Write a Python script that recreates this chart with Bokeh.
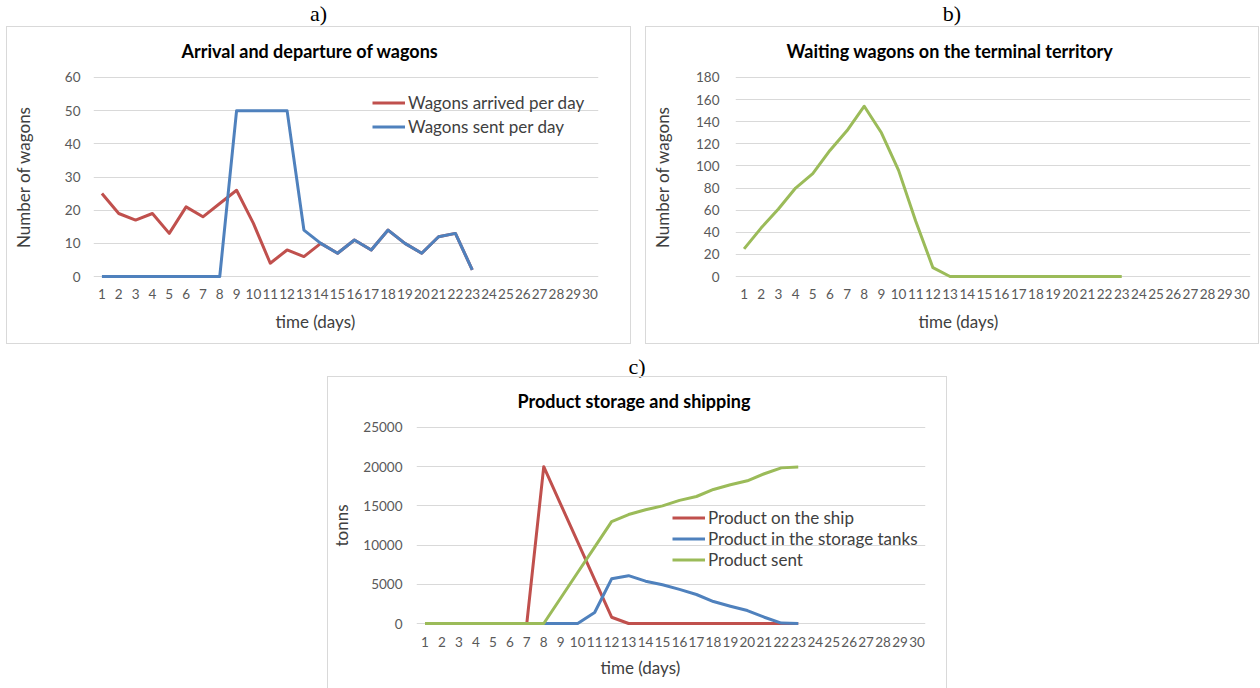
from bokeh.plotting import figure
from bokeh.models import Range1d, FixedTicker, Title, Legend, LegendItem, Div, Spacer
from bokeh.layouts import row, column
from bokeh.embed import file_html
from bokeh.resources import INLINE

# ---------------- data ----------------
x_ticks = [1, 2, 3, 4, 5, 6, 7, 8, 9, 10, 11, 12, 13, 14, 15, 16, 17, 18, 19, 20,
           21, 22, 23, 24, 25, 26, 27, 28, 29, 30]
days = [1, 2, 3, 4, 5, 6, 7, 8, 9, 10, 11, 12, 13, 14, 15, 16, 17, 18, 19, 20, 21, 22, 23]

wagons_arrived = [25, 19, 17, 19, 13, 21, 18, 22, 26, 16, 4, 8, 6, 10, 7, 11, 8, 14, 10, 7, 12, 13, 2]
wagons_sent = [0, 0, 0, 0, 0, 0, 0, 0, 50, 50, 50, 50, 14, 10, 7, 11, 8, 14, 10, 7, 12, 13, 2]

waiting_wagons = [25, 44, 61, 80, 93, 114, 132, 154, 130, 96, 50, 8, 0, 0, 0, 0, 0, 0, 0, 0, 0, 0, 0]

product_ship = [0, 0, 0, 0, 0, 0, 0, 20000, 15200, 10400, 5600, 800, 0, 0, 0, 0, 0, 0, 0, 0, 0, 0, 0]
product_storage = [0, 0, 0, 0, 0, 0, 0, 0, 0, 0, 1400, 5700, 6100, 5400, 4950, 4350, 3700, 2800,
                   2200, 1650, 800, 50, 0]
product_sent = [0, 0, 0, 0, 0, 0, 0, 0, 3250, 6500, 9750, 13000, 13900, 14500, 15000, 15700,
                16200, 17100, 17700, 18200, 19100, 19850, 19950]

ticks_a = [0, 10, 20, 30, 40, 50, 60]
ticks_b = [0, 20, 40, 60, 80, 100, 120, 140, 160, 180]
ticks_c = [0, 5000, 10000, 15000, 20000, 25000]

RED = "#C0504D"
BLUE = "#4F81BD"
GREEN = "#9BBB59"
FONT = "Lato"


def make_fig(w, h, ml, mr, mt, mb, yticks, pad, title, title_off, xlab_off, xlab_so, xtick_so,
             ylab, ylab_so, ytick_so):
    p = figure(width=w, height=h, output_backend="svg", toolbar_location=None, tools="",
               x_range=Range1d(0.5, 30.5), y_range=Range1d(yticks[0] - pad, yticks[-1] + pad),
               min_border_left=ml, min_border_right=mr, min_border_top=mt, min_border_bottom=mb,
               styles={"outline": "1px solid #d9d9d9"})
    p.outline_line_color = None
    p.background_fill_color = "white"
    p.border_fill_color = "white"
    p.xgrid.grid_line_color = None
    p.yaxis.ticker = FixedTicker(ticks=yticks)
    p.ygrid.ticker = FixedTicker(ticks=yticks)
    p.ygrid.grid_line_color = "#d9d9d9"
    p.ygrid.grid_line_width = 1
    p.xaxis.ticker = FixedTicker(ticks=x_ticks)
    for ax in (p.xaxis[0], p.yaxis[0]):
        ax.axis_line_color = None
        ax.major_tick_line_color = None
        ax.minor_tick_line_color = None
        ax.major_tick_out = 0
        ax.major_label_text_font = FONT
        ax.major_label_text_font_size = "13.5px"
        ax.major_label_text_color = "#595959"
    p.yaxis.major_label_standoff = ytick_so
    p.xaxis.major_label_standoff = xtick_so

    p.yaxis.axis_label = ylab
    p.yaxis.axis_label_standoff = ylab_so
    p.yaxis.axis_label_text_font = FONT
    p.yaxis.axis_label_text_font_size = "17px"
    p.yaxis.axis_label_text_font_style = "normal"
    p.yaxis.axis_label_text_color = "#404040"

    t = Title(text=title, align="left", offset=title_off, standoff=24, vertical_align="top",
              text_font=FONT, text_font_size="18px", text_font_style="bold", text_color="#000000")
    p.add_layout(t, "above")
    xl = Title(text="time (days)", align="left", offset=xlab_off, standoff=xlab_so,
               vertical_align="middle", text_font=FONT, text_font_size="17px",
               text_font_style="normal", text_color="#404040")
    p.add_layout(xl, "below")
    return p


def make_legend(items, loc, gh, sp):
    return Legend(items=items, location=loc, glyph_width=33, glyph_height=gh, label_height=gh,
                  spacing=sp, label_standoff=3, padding=0, margin=0, border_line_color=None,
                  background_fill_alpha=0, label_text_font=FONT, label_text_font_size="17px",
                  label_text_color="#404040", label_text_baseline="middle")


# ---------------- chart a ----------------
pa = make_fig(623, 316, 86, 32, 48, 65, ticks_a, 0.6, "Arrival and departure of wagons", 88, 182, 16, 10,
              "Number of wagons", 28, 13)
ra1 = pa.line(days, wagons_arrived, line_color=RED, line_width=3, line_join="round")
ra2 = pa.line(days, wagons_sent, line_color=BLUE, line_width=3, line_join="round")
pa.add_layout(make_legend([LegendItem(label="Wagons arrived per day", renderers=[ra1]),
                           LegendItem(label="Wagons sent per day", renderers=[ra2])], (279, 141), 21, 3))

# ---------------- chart b ----------------
pb = make_fig(612, 316, 89, 8, 48, 65, ticks_b, 1.8, "Waiting wagons on the terminal territory", 51, 183, 16, 10,
              "Number of wagons", 20, 16)
pb.line(days, waiting_wagons, line_color=GREEN, line_width=3, line_join="round")

# ---------------- chart c ----------------
pc = make_fig(618, 311, 88, 21, 48, 63, ticks_c, 255, "Product storage and shipping", 101, 184, 13, 11,
              "tonns", 8, 14)
rc1 = pc.line(days, product_ship, line_color=RED, line_width=3, line_join="round")
rc2 = pc.line(days, product_storage, line_color=BLUE, line_width=3, line_join="round")
rc3 = pc.line(days, product_sent, line_color=GREEN, line_width=3, line_join="round")
pc.add_layout(make_legend([LegendItem(label="Product on the ship", renderers=[rc1]),
                           LegendItem(label="Product in the storage tanks", renderers=[rc2]),
                           LegendItem(label="Product sent", renderers=[rc3])], (256, 55), 21, 0))


def lab(t, w, h, pad_top):
    html = ('<div style="width:%dpx;text-align:center;font-family:\'Liberation Serif\';font-size:22px;'
            'line-height:22px;padding-top:%dpx;color:#000">%s</div>') % (w, pad_top, t)
    return Div(text=html, width=w, height=h, margin=0)


layout = column(
    row(Spacer(width=7, height=10, margin=0),
        column(lab("a)", 623, 27, 3), pa),
        Spacer(width=16, height=10, margin=0),
        column(lab("b)", 612, 27, 3), pb)),
    row(Spacer(width=328, height=10, margin=0), column(lab("c)", 618, 34, 13), pc)),
)

open("out.html", "w").write(file_html(layout, INLINE))
